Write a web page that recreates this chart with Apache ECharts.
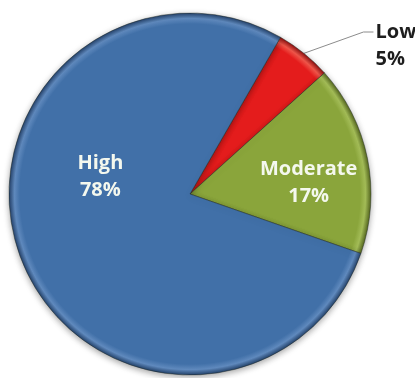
<!DOCTYPE html>
<html>
<head>
<meta charset="utf-8">
<script src="https://cdn.jsdelivr.net/npm/echarts@6/dist/echarts.min.js"></script>
<style>
  html, body { margin: 0; padding: 0; background: #fff; }
  #chart { width: 415px; height: 378px; }
</style>
</head>
<body>
<div id="chart"></div>
<script>
// slice order follows the picture, clockwise from the top-right
const categories = ['Low', 'Moderate', 'High']
const shares = [5, 17, 78]

const sliceColors = {
  Low: ['#e41c1c', '#f0564a', '#8a0f0f'],
  Moderate: ['#8aa53b', '#a3bc57', '#55671f'],
  High: ['#4170a8', '#5f89bd', '#24426b'],
}
// nudge of each label from where echarts would put it (style only)
const labelShift = [[3, 2], [27, 7], [-2, -50]]

const cx = 190
const cy = 194
const radius = 181

function ring(name) {
  const [base, light, dark] = sliceColors[name]
  return {
    type: 'radial', x: cx, y: cy, r: radius, global: true,
    colorStops: [
      { offset: 0, color: base },
      { offset: 0.94, color: base },
      { offset: 0.97, color: light },
      { offset: 1, color: dark },
    ],
  }
}

const chart = echarts.init(document.getElementById('chart'))
chart.setOption({
  backgroundColor: '#ffffff',
  animation: false,
  series: [
    {
      type: 'pie',
      center: [cx, cy],
      radius: radius,
      startAngle: 60,
      clockwise: true,
      avoidLabelOverlap: false,
      itemStyle: {
        borderColor: 'rgba(30, 40, 30, 0.45)',
        borderWidth: 1,
        shadowColor: 'rgba(0, 0, 0, 0.35)',
        shadowBlur: 6,
        shadowOffsetY: 2,
      },
      label: {
        formatter: '{b}\n{c}%',
        fontFamily: 'Open Sans',
        fontWeight: 'bold',
        fontSize: 20,
        lineHeight: 27,
        align: 'center',
      },
      labelLine: {
        length: 12,
        length2: 56,
        lineStyle: { color: '#8c8c8c', width: 1 },
      },
      labelLayout(p) {
        const s = labelShift[p.dataIndex]
        const out = { dx: s[0], dy: s[1] }
        if (p.dataIndex === 0 && p.labelLinePoints) {
          const r = p.labelRect
          const ey = r.y + s[1] + 13
          const ex = r.x + s[0] - 2
          out.labelLinePoints = [p.labelLinePoints[0], [ex - 10, ey], [ex, ey]]
        }
        return out
      },
      data: categories.map((name, i) => ({
        name,
        value: shares[i],
        itemStyle: { color: ring(name) },
        label: i === 0
          ? { position: 'outside', color: '#1e1e1e', align: 'left' }
          : { position: 'inside', color: '#f4f8ee' },
        labelLine: { show: i === 0 },
      })),
    },
  ],
})
</script>
</body>
</html>
